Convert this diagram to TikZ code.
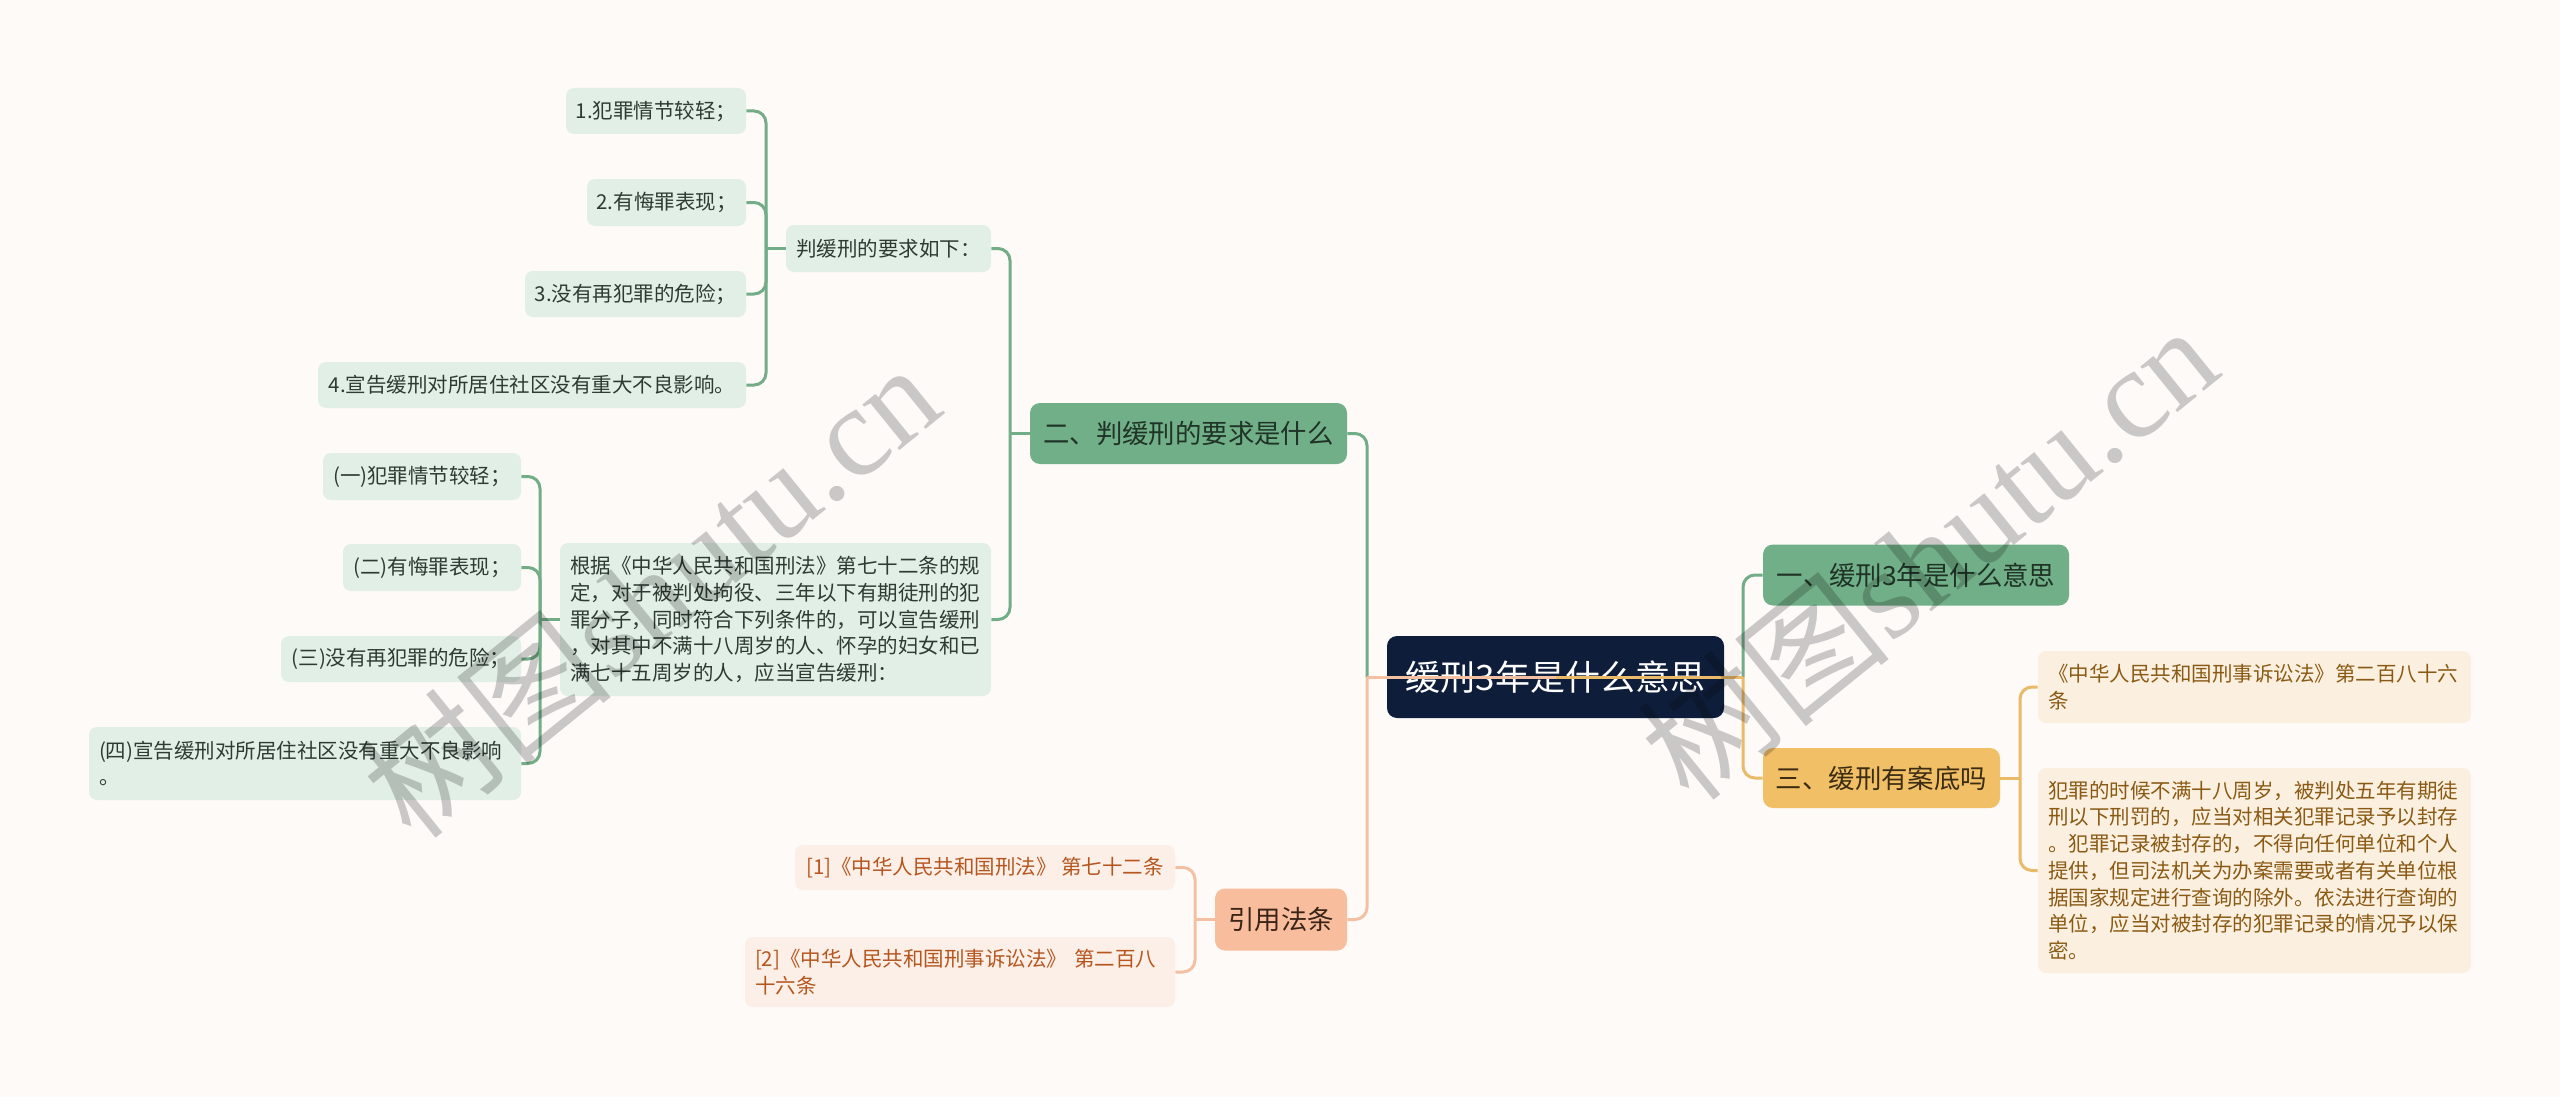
\documentclass[tikz,border=0pt]{standalone}
\usepackage{fontspec}
\setmainfont{Noto Sans CJK SC}
\newfontfamily\wmserif{Liberation Serif}
\definecolor{bgc}{HTML}{FDFAF8}
\definecolor{rootc}{HTML}{0E1E3A}
\definecolor{gmain}{HTML}{71AF88}
\definecolor{gchild}{HTML}{E1EFE6}
\definecolor{gmtext}{HTML}{1F3326}
\definecolor{gctext}{HTML}{2E3B33}
\definecolor{gline}{HTML}{72AD87}
\definecolor{omain}{HTML}{F1BF66}
\definecolor{ochild}{HTML}{FBF0E0}
\definecolor{omtext}{HTML}{3B2C12}
\definecolor{octext}{HTML}{8A5A14}
\definecolor{oline}{HTML}{E9BA68}
\definecolor{pmain}{HTML}{F8BD9D}
\definecolor{pchild}{HTML}{FCEFE7}
\definecolor{pmtext}{HTML}{3A2418}
\definecolor{pctext}{HTML}{B5561F}
\definecolor{pline}{HTML}{F3C0A2}
\pgfdeclarelayer{bgl}
\pgfdeclarelayer{edges}
\pgfdeclarelayer{front}
\pgfsetlayers{bgl,edges,main,front}
\tikzset{
  box/.style={inner sep=0pt, rounded corners=4pt},
  rootbox/.style={box, fill=rootc, text=white, rounded corners=5pt,
    font=\fontsize{17.5}{21}\selectfont},
  mainbox/.style={box, rounded corners=5pt, font=\fontsize{13.2}{16}\selectfont},
  gm/.style={mainbox, fill=gmain, text=gmtext},
  om/.style={mainbox, fill=omain, text=omtext},
  pm/.style={mainbox, fill=pmain, text=pmtext},
  leaf/.style={box, font=\fontsize{10.25}{13.35}\selectfont},
  gc/.style={leaf, fill=gchild, text=gctext},
  oc/.style={leaf, fill=ochild, text=octext},
  pc/.style={leaf, fill=pchild, text=pctext},
  multi/.style={align=left, inner xsep=5pt},
  conn/.style={line width=1.5pt, rounded corners=6pt},
  gl/.style={conn, draw=gline},
  ol/.style={conn, draw=oline},
  pl/.style={conn, draw=pline},
  wm/.style={text=black, opacity=0.2, rotate=39, inner sep=0pt}
}
\begin{document}
\begin{tikzpicture}[x=0.5pt, y=-0.5pt]
\begin{pgfonlayer}{bgl}
\fill[bgc] (0,0) rectangle (2560,1097);
\end{pgfonlayer}
\useasboundingbox (0,0) rectangle (2560,1097);

% root and main branches
\node[rootbox, minimum width=168.5pt, minimum height=41pt] (root) at (1555.5,677) {缓刑3年是什么意思};
\node[gm, minimum width=158.5pt, minimum height=30.5pt] (n2) at (1188.5,433.5) {二、判缓刑的要求是什么};
\node[gm, minimum width=153pt, minimum height=30.5pt] (n1) at (1916,575) {一、缓刑3年是什么意思};
\node[om, minimum width=118.5pt, minimum height=30pt] (n3) at (1881.5,778) {三、缓刑有案底吗};
\node[pm, minimum width=66pt, minimum height=31pt] (nref) at (1281,919.5) {引用法条};

% branch 二
\node[gc, minimum width=102.5pt, minimum height=23.5pt] (p) at (888.5,248.5) {判缓刑的要求如下：};
\node[gc, minimum width=90pt, minimum height=23pt] (a1) at (656,111) {1.犯罪情节较轻；};
\node[gc, minimum width=79.5pt, minimum height=23.5pt] (a2) at (666.5,202.5) {2.有悔罪表现；};
\node[gc, minimum width=110.5pt, minimum height=23pt] (a3) at (635.5,294) {3.没有再犯罪的危险；};
\node[gc, minimum width=214pt, minimum height=23pt] (a4) at (532,385) {4.宣告缓刑对所居住社区没有重大不良影响。};
\node[gc, multi, text width=205.5pt, minimum height=76.5pt] (g) at (775.5,619.5)
  {根据《中华人民共和国刑法》第七十二条的规\\定，对于被判处拘役、三年以下有期徒刑的犯\\罪分子，同时符合下列条件的，可以宣告缓刑\\，对其中不满十八周岁的人、怀孕的妇女和已\\满七十五周岁的人，应当宣告缓刑：};
\node[gc, minimum width=99pt, minimum height=23.5pt] (b1) at (422,476.5) {(一)犯罪情节较轻；};
\node[gc, minimum width=89pt, minimum height=23.5pt] (b2) at (432,567.5) {(二)有悔罪表现；};
\node[gc, minimum width=120pt, minimum height=23pt] (b3) at (401,659) {(三)没有再犯罪的危险；};
\node[gc, multi, text width=206pt, minimum height=36.5pt] (b4) at (305,763.5)
  {(四)宣告缓刑对所居住社区没有重大不良影响\\。};

% branch 三
\node[oc, multi, text width=206.5pt, minimum height=36pt] (r1) at (2254.5,687)
  {《中华人民共和国刑事诉讼法》第二百八十六\\条};
\node[oc, multi, text width=206.5pt, minimum height=102.5pt] (r2) at (2254.5,870.5)
  {犯罪的时候不满十八周岁，被判处五年有期徒\\刑以下刑罚的，应当对相关犯罪记录予以封存\\。犯罪记录被封存的，不得向任何单位和个人\\提供，但司法机关为办案需要或者有关单位根\\据国家规定进行查询的除外。依法进行查询的\\单位，应当对被封存的犯罪记录的情况予以保\\密。};

% branch 引用法条
\node[pc, minimum width=190pt, minimum height=22.5pt] (c1) at (985,867.5) {[1]《中华人民共和国刑法》 第七十二条};
\node[pc, multi, text width=205pt, minimum height=35pt] (c2) at (960,972)
  {[2]《中华人民共和国刑事诉讼法》 第二百八\\十六条};

% trunk points
\coordinate (tL) at (1367,677);
\coordinate (tR) at (1743,677);
\coordinate (t2) at (1010,433.5);
\coordinate (tp) at (766,248.5);
\coordinate (tg) at (540,619.5);
\coordinate (t3) at (2020,778);
\coordinate (tc) at (1195,919.5);

\begin{pgfonlayer}{edges}
\draw[gl] (tL) |- (n2.east);
\draw[pl] (tL) |- (nref.east);
\draw[gl] (tR) |- (n1.west);
\draw[ol] (tR) |- (n3.west);

\draw[gl] (n2.west) -- (t2);
\draw[gl] (t2) |- (p.east);
\draw[gl] (t2) |- (g.east);

\draw[gl] (p.west) -- (tp);
\draw[gl] (tp) |- (a1.east);
\draw[gl] (tp) |- (a2.east);
\draw[gl] (tp) |- (a3.east);
\draw[gl] (tp) |- (a4.east);

\draw[gl] (g.west) -- (tg);
\draw[gl] (tg) |- (b1.east);
\draw[gl] (tg) |- (b2.east);
\draw[gl] (tg) |- (b3.east);
\draw[gl] (tg) |- (b4.east);

\draw[ol] (n3.east) -- (t3);
\draw[ol] (t3) |- (r1.west);
\draw[ol] (t3) |- (r2.west);

\draw[pl] (nref.west) -- (tc);
\draw[pl] (tc) |- (c1.east);
\draw[pl] (tc) |- (c2.east);
\end{pgfonlayer}

% root connectors drawn over the root, as in the reference
\draw[pl] (root.center) -- (tL);
\draw[ol] (root.center) -- (tR);

% watermarks
\begin{pgfonlayer}{front}
\node[wm, font=\fontsize{64}{70}\selectfont] (wm1) at (650,590) {树图{\wmserif shutu.cn}};
\node[wm, font=\fontsize{64}{70}\selectfont] (wm2) at (1928,552) {树图{\wmserif shutu.cn}};
\end{pgfonlayer}
\end{tikzpicture}
\end{document}
